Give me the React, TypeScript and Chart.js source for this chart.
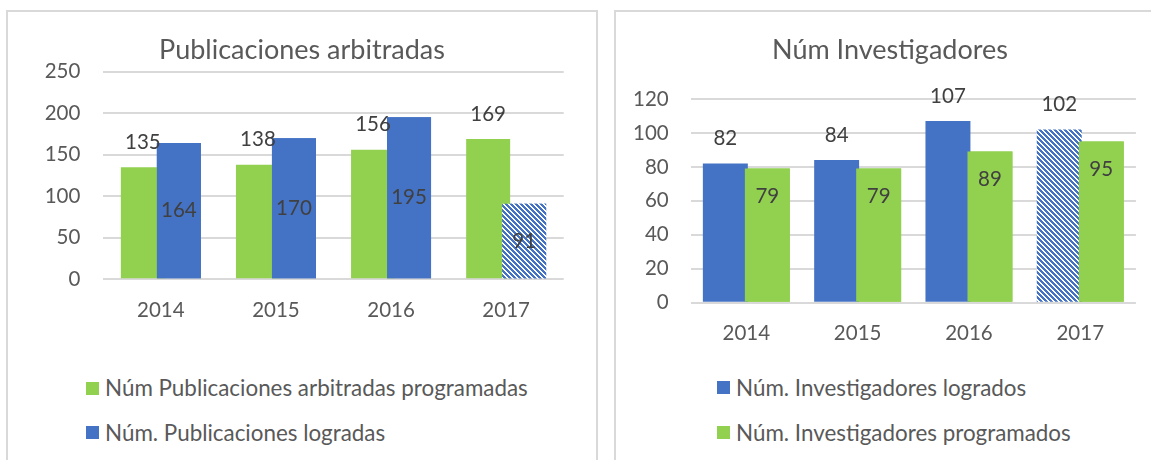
import React, { useEffect, useRef } from 'react';
import { Chart, registerables } from 'chart.js';

Chart.register(...registerables);

// ---- data ----
const years = ['2014', '2015', '2016', '2017'];
const pubProgramadas = [135, 138, 156, 169];
const pubLogradas = [164, 170, 195, 91];
const invLogrados = [82, 84, 107, 102];
const invProgramados = [79, 79, 89, 95];
const pubTitle = 'Publicaciones arbitradas';
const invTitle = 'Núm Investigadores';
const pubSeriesNames = ['Núm Publicaciones arbitradas programadas', 'Núm. Publicaciones logradas'];
const invSeriesNames = ['Núm. Investigadores logrados', 'Núm. Investigadores programados'];
const pubAxis = { max: 250, step: 50 };
const invAxis = { max: 120, step: 20 };
const partialYear = '2017'; // year drawn with hatched fill (in progress)

// ---- styles ----
const BLUE = '#4472C4';
const GREEN = '#92D050';
const GRID = '#D9D9D9';
const TEXT = '#595959';
const LABEL = '#404040';
const FONT = 'Lato, "Open Sans", sans-serif';

function makeHatch(ctx: CanvasRenderingContext2D, color: string) {
  const s = 5;
  const c = document.createElement('canvas');
  c.width = s;
  c.height = s;
  const g = c.getContext('2d')!;
  g.fillStyle = '#ffffff';
  g.fillRect(0, 0, s, s);
  g.fillStyle = color;
  for (let x = 0; x < s; x++) {
    for (let y = 0; y < s; y++) {
      if ((((x - y) % s) + s) % s < 3) g.fillRect(x, y, 1, 1);
    }
  }
  return ctx.createPattern(c, 'repeat');
}

const overlayLabels = {
  id: 'overlayLabels',
  afterDatasetsDraw(chart: any) {
    const ctx = chart.ctx;
    const area = chart.chartArea;
    // later series drawn on top (overlapping bars)
    ctx.save();
    ctx.beginPath();
    ctx.rect(area.left, area.top, area.right - area.left, area.bottom - area.top);
    ctx.clip();
    chart.getDatasetMeta(1).data.forEach((el: any) => el.draw(ctx));
    ctx.restore();

    ctx.save();
    ctx.font = `20.5px ${FONT}`;
    ctx.fillStyle = LABEL;
    ctx.textAlign = 'center';
    ctx.textBaseline = 'middle';
    chart.data.datasets.forEach((ds: any, i: number) => {
      const meta = chart.getDatasetMeta(i);
      meta.data.forEach((el: any, j: number) => {
        const p = el.getProps(['x', 'y', 'base'], true);
        let ty: number;
        if (ds.labelPos === 'outside') ty = p.y - 25;
        else if (ds.labelPos === 'inside') ty = p.y + 27.5;
        else ty = (p.y + p.base) / 2;
        ctx.fillText(String(ds.data[j]), p.x, ty);
      });
    });
    ctx.restore();
  },
};

type Series = { name: string; values: number[]; color: string; labelPos: string; hatchLast?: boolean };

type PanelProps = {
  title: string;
  series: Series[];
  axis: { max: number; step: number };
  canvas: { left: number; top: number; width: number; height: number };
  padLeft: number;
  yWidth: number;
  yPad: number;
  padRight: number;
  rightSpacer: number;
  titlePad: { top: number; bottom: number };
  xHeight: number;
  xPad: number;
  catPct: number;
  barPct: number;
  legend: { left: number; rows: number[] };
};

function Panel(props: PanelProps) {
  const ref = useRef<HTMLCanvasElement | null>(null);
  useEffect(() => {
    const cv = ref.current!;
    const ctx = cv.getContext('2d')!;
    const hatch = makeHatch(ctx, BLUE);
    const scales: any = {
      x: {
        grid: { display: false, drawTicks: false },
        border: { display: false },
        ticks: { color: TEXT, font: { family: FONT, size: 20.5 }, padding: props.xPad },
        afterFit: (s: any) => {
          s.height = props.xHeight;
        },
      },
      y: {
        min: 0,
        max: props.axis.max,
        grid: { color: GRID, lineWidth: 2, drawTicks: false },
        border: { display: false },
        ticks: { stepSize: props.axis.step, color: TEXT, font: { family: FONT, size: 20.5 }, padding: props.yPad },
        afterFit: (s: any) => {
          s.width = props.yWidth;
        },
      },
    };
    if (props.rightSpacer > 0) {
      scales.spacer = {
        type: 'linear',
        position: 'right',
        display: true,
        grid: { display: false, drawTicks: false },
        border: { display: false },
        ticks: { display: false },
        afterFit: (s: any) => {
          s.width = props.rightSpacer;
        },
      };
    }
    const chart = new Chart(ctx, {
      type: 'bar',
      data: {
        labels: years,
        datasets: props.series.map((s) => ({
          label: s.name,
          data: s.values,
          backgroundColor: s.hatchLast
            ? years.map((y) => (y === partialYear ? hatch : s.color))
            : s.color,
          borderWidth: 0,
          categoryPercentage: props.catPct,
          barPercentage: props.barPct,
          labelPos: s.labelPos,
          yAxisID: 'y',
        })) as any,
      },
      options: {
        animation: false,
        responsive: false,
        maintainAspectRatio: false,
        layout: { padding: { left: props.padLeft, right: props.padRight, top: 0, bottom: 0 } },
        plugins: {
          legend: { display: false },
          tooltip: { enabled: false },
          title: {
            display: true,
            text: props.title,
            color: TEXT,
            font: { family: FONT, size: 27, weight: 'normal', lineHeight: 1.2 },
            padding: props.titlePad,
          },
        },
        scales,
      } as any,
      plugins: [overlayLabels],
    });
    return () => chart.destroy();
  }, []);

  const c = props.canvas;
  return (
    <>
      <canvas
        ref={ref}
        width={c.width}
        height={c.height}
        style={{ position: 'absolute', left: c.left, top: c.top, width: c.width, height: c.height }}
      />
      {props.series.map((s, i) => (
        <div
          key={s.name}
          style={{
            position: 'absolute',
            left: props.legend.left,
            top: props.legend.rows[i] - 13,
            height: 26,
            display: 'flex',
            alignItems: 'center',
            whiteSpace: 'nowrap',
            fontFamily: FONT,
            fontSize: 22.4,
            color: TEXT,
            lineHeight: '26px',
          }}
        >
          <span style={{ display: 'inline-block', width: 13, height: 13, background: s.color, marginRight: 6 }} />
          <span>{s.name}</span>
        </div>
      ))}
    </>
  );
}

export default function App() {
  return (
    <div
      style={{
        position: 'absolute',
        left: 0,
        top: 0,
        width: 1151,
        height: 460,
        overflow: 'hidden',
        background: '#ffffff',
      }}
    >
      <div
        style={{
          position: 'absolute',
          left: 6,
          top: 10,
          width: 592,
          height: 480,
          boxSizing: 'border-box',
          border: `2px solid ${GRID}`,
        }}
      />
      <div
        style={{
          position: 'absolute',
          left: 614,
          top: 10,
          width: 600,
          height: 480,
          boxSizing: 'border-box',
          border: `2px solid ${GRID}`,
        }}
      />
      <Panel
        title={pubTitle}
        series={[
          { name: pubSeriesNames[0], values: pubProgramadas, color: GREEN, labelPos: 'outside' },
          { name: pubSeriesNames[1], values: pubLogradas, color: BLUE, labelPos: 'center', hatchLast: true },
        ]}
        axis={pubAxis}
        canvas={{ left: 8, top: 12, width: 588, height: 330 }}
        padLeft={32.3}
        yWidth={63}
        yPad={23}
        padRight={32.3}
        rightSpacer={0}
        titlePad={{ top: 21.8, bottom: 5.5 }}
        xHeight={62.7}
        xPad={19.1}
        catPct={0.6255}
        barPct={1.222}
        legend={{ left: 86, rows: [388, 432.7] }}
      />
      <Panel
        title={invTitle}
        series={[
          { name: invSeriesNames[0], values: invLogrados, color: BLUE, labelPos: 'outside', hatchLast: true },
          { name: invSeriesNames[1], values: invProgramados, color: GREEN, labelPos: 'inside' },
        ]}
        axis={invAxis}
        canvas={{ left: 616, top: 12, width: 548, height: 350 }}
        padLeft={14}
        yWidth={60.7}
        yPad={22}
        padRight={14}
        rightSpacer={14.1}
        titlePad={{ top: 21.8, bottom: 32.8 }}
        xHeight={59.3}
        xPad={18}
        catPct={0.755}
        barPct={1.07}
        legend={{ left: 717, rows: [387.7, 432.7] }}
      />
    </div>
  );
}
